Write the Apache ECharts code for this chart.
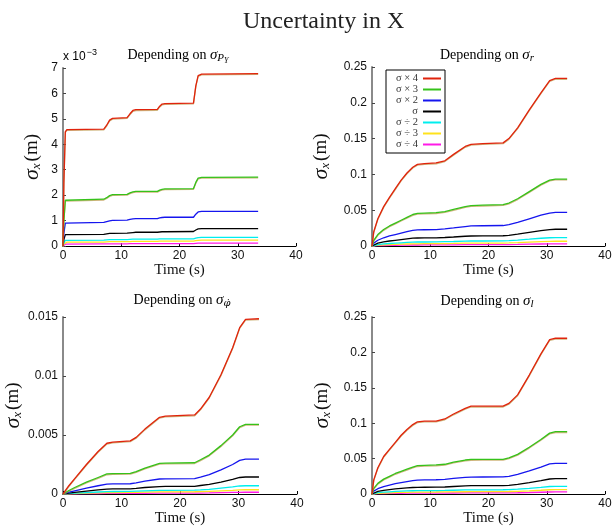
<!DOCTYPE html>
<html>
<head>
<meta charset="utf-8">
<title>Uncertainty in X</title>
<script src="https://cdn.jsdelivr.net/npm/echarts@6/dist/echarts.min.js"></script>
<style>
  html, body { margin: 0; padding: 0; background: #fff; }
  #chart { width: 614px; height: 529px; }
</style>
</head>
<body>
<div id="chart"></div>
<script>
  // legend entries, same order in every panel
  const legendNames = ['σ × 4', 'σ × 3', 'σ × 2', 'σ', 'σ ÷ 2', 'σ ÷ 3', 'σ ÷ 4'];

  // --- panel 1: depending on sigma_PY (values in x10^-3 m) ---
  const timePY = [0, 0.15, 0.4, 0.7, 7.0, 7.5, 8.0, 8.5, 11.0, 11.5, 12.0, 12.5, 16.2, 16.6, 17.0, 17.5, 22.4, 22.8, 23.2, 23.8, 33.5];
  const py4 = [0, 2.5, 4.5, 4.58, 4.6, 4.75, 4.95, 5.02, 5.05, 5.2, 5.33, 5.36, 5.37, 5.5, 5.58, 5.6, 5.62, 6.3, 6.7, 6.76, 6.78];
  const py3 = [0, 1.0, 1.8, 1.83, 1.84, 1.9, 1.98, 2.02, 2.03, 2.09, 2.13, 2.15, 2.15, 2.2, 2.23, 2.25, 2.26, 2.5, 2.67, 2.7, 2.71];
  const py2 = [0, 0.5, 0.9, 0.92, 0.93, 0.96, 0.99, 1.01, 1.02, 1.05, 1.07, 1.08, 1.08, 1.11, 1.12, 1.13, 1.13, 1.25, 1.34, 1.36, 1.36];
  const py1 = [0, 0.25, 0.45, 0.46, 0.46, 0.48, 0.5, 0.5, 0.51, 0.52, 0.53, 0.54, 0.54, 0.55, 0.56, 0.56, 0.57, 0.63, 0.67, 0.68, 0.68];
  const pyD2 = [0, 0.12, 0.22, 0.23, 0.23, 0.24, 0.25, 0.25, 0.25, 0.26, 0.27, 0.27, 0.27, 0.28, 0.28, 0.28, 0.28, 0.31, 0.33, 0.34, 0.34];
  const pyD3 = [0, 0.08, 0.15, 0.15, 0.15, 0.16, 0.17, 0.17, 0.17, 0.17, 0.18, 0.18, 0.18, 0.19, 0.19, 0.19, 0.19, 0.21, 0.22, 0.23, 0.23];
  const pyD4 = [0, 0.04, 0.07, 0.07, 0.08, 0.08, 0.08, 0.08, 0.08, 0.09, 0.09, 0.09, 0.09, 0.09, 0.09, 0.09, 0.09, 0.1, 0.11, 0.11, 0.11];

  // --- panel 2: depending on sigma_r (m) ---
  const timeR = [0, 0.3, 1, 2, 3, 4, 5, 6, 7, 7.8, 9, 11, 12.5, 14, 16, 17, 19, 22.5, 23.5, 25, 27, 29, 30.5, 31.5, 33.5];
  const r4 = [0, 0.02, 0.038, 0.055, 0.068, 0.08, 0.092, 0.102, 0.11, 0.114, 0.115, 0.116, 0.119, 0.128, 0.139, 0.142, 0.143, 0.144, 0.15, 0.165, 0.19, 0.214, 0.231, 0.234, 0.234];
  const r3 = [0, 0.008, 0.016, 0.023, 0.028, 0.032, 0.036, 0.04, 0.044, 0.0455, 0.046, 0.0465, 0.048, 0.051, 0.055, 0.0565, 0.057, 0.0578, 0.06, 0.066, 0.076, 0.086, 0.092, 0.0935, 0.0935];
  const r2 = [0, 0.004, 0.008, 0.0115, 0.014, 0.016, 0.018, 0.02, 0.0218, 0.0224, 0.0227, 0.0228, 0.0238, 0.0252, 0.0272, 0.028, 0.0283, 0.0286, 0.0298, 0.033, 0.038, 0.043, 0.046, 0.047, 0.047];
  const r1 = [0, 0.002, 0.004, 0.0058, 0.007, 0.008, 0.009, 0.01, 0.0109, 0.0112, 0.0113, 0.0114, 0.0119, 0.0126, 0.0136, 0.014, 0.0141, 0.0143, 0.0149, 0.0165, 0.019, 0.0215, 0.023, 0.0234, 0.0234];
  const rD2 = [0, 0.001, 0.002, 0.0029, 0.0035, 0.004, 0.0045, 0.005, 0.0054, 0.0056, 0.0056, 0.0057, 0.006, 0.0063, 0.0068, 0.007, 0.007, 0.0072, 0.0075, 0.0083, 0.0095, 0.0108, 0.0115, 0.0117, 0.0117];
  const rD3 = [0, 0.0006, 0.0011, 0.0016, 0.002, 0.0023, 0.0026, 0.0028, 0.003, 0.0031, 0.0032, 0.0032, 0.0034, 0.0036, 0.0039, 0.004, 0.004, 0.0041, 0.0043, 0.0047, 0.0054, 0.0061, 0.0065, 0.0066, 0.0066];
  const rD4 = [0, 0.0003, 0.0005, 0.0007, 0.0009, 0.001, 0.0012, 0.0013, 0.0014, 0.0014, 0.0015, 0.0015, 0.0016, 0.0017, 0.0018, 0.0018, 0.0019, 0.0019, 0.002, 0.0022, 0.0025, 0.0028, 0.003, 0.003, 0.003];

  // --- panel 3: depending on sigma_phi-dot (m) ---
  const timePhi = [0, 1, 2, 4, 6, 7.5, 8.5, 11.5, 12.5, 14, 16.5, 17.5, 22.5, 23.5, 25, 27, 29, 30.2, 31.2, 33.5];
  const phi4 = [0, 0.0007, 0.0013, 0.0025, 0.0036, 0.0043, 0.0044, 0.0045, 0.0048, 0.0055, 0.0065, 0.0066, 0.0067, 0.0072, 0.0082, 0.0101, 0.0124, 0.0141, 0.0148, 0.01485];
  const phi3 = [0, 0.0003, 0.00055, 0.001, 0.0014, 0.0017, 0.00173, 0.00175, 0.0019, 0.0022, 0.0026, 0.00262, 0.00265, 0.0029, 0.0033, 0.0041, 0.005, 0.0057, 0.0059, 0.0059];
  const phi2 = [0, 0.00015, 0.00027, 0.0005, 0.0007, 0.00084, 0.00086, 0.00087, 0.00095, 0.0011, 0.00127, 0.00129, 0.0013, 0.00143, 0.00165, 0.00205, 0.0025, 0.00285, 0.00295, 0.00295];
  const phi1 = [0, 0.00007, 0.00013, 0.00025, 0.00035, 0.00042, 0.00043, 0.00044, 0.00048, 0.00055, 0.00062, 0.00064, 0.00065, 0.00072, 0.00082, 0.001, 0.00123, 0.0014, 0.00144, 0.00144];
  const phiD2 = [0, 0.00004, 0.00007, 0.00012, 0.00017, 0.0002, 0.00021, 0.00022, 0.00024, 0.00027, 0.0003, 0.00031, 0.00032, 0.00035, 0.0004, 0.0005, 0.0006, 0.00068, 0.0007, 0.0007];
  const phiD3 = [0, 0.00002, 0.00004, 0.00007, 0.0001, 0.00012, 0.00012, 0.00013, 0.00014, 0.00016, 0.00018, 0.00018, 0.00019, 0.0002, 0.00023, 0.00027, 0.00031, 0.00035, 0.00036, 0.00036];
  const phiD4 = [0, 0.00001, 0.00002, 0.00003, 0.00004, 0.00005, 0.00005, 0.00005, 0.00006, 0.00006, 0.00007, 0.00007, 0.00007, 0.00008, 0.00009, 0.00011, 0.00013, 0.00014, 0.00015, 0.00015];

  // --- panel 4: depending on sigma_l (m) ---
  const timeL = [0, 0.3, 1, 2, 3, 4, 5, 6, 7, 7.8, 9, 11, 12.5, 14, 16, 17, 19, 22.5, 23.5, 25, 27, 29, 30.5, 31.5, 33.5];
  const l4 = [0, 0.02, 0.037, 0.053, 0.063, 0.073, 0.083, 0.091, 0.098, 0.102, 0.103, 0.103, 0.106, 0.113, 0.121, 0.124, 0.124, 0.124, 0.128, 0.14, 0.168, 0.198, 0.218, 0.22, 0.22];
  const l3 = [0, 0.008, 0.015, 0.021, 0.025, 0.029, 0.032, 0.035, 0.038, 0.04, 0.0405, 0.041, 0.042, 0.045, 0.048, 0.0488, 0.049, 0.049, 0.051, 0.056, 0.066, 0.077, 0.086, 0.088, 0.088];
  const l2 = [0, 0.004, 0.0075, 0.0105, 0.0125, 0.0145, 0.016, 0.0175, 0.019, 0.0197, 0.02, 0.0201, 0.0207, 0.022, 0.0234, 0.0239, 0.024, 0.0241, 0.025, 0.0277, 0.0325, 0.038, 0.0425, 0.0432, 0.0432];
  const l1 = [0, 0.002, 0.0037, 0.0052, 0.0062, 0.0072, 0.008, 0.0087, 0.0092, 0.0094, 0.0095, 0.0096, 0.0099, 0.0106, 0.0114, 0.0117, 0.0118, 0.0119, 0.0123, 0.0136, 0.016, 0.0188, 0.0212, 0.0216, 0.0216];
  const lD2 = [0, 0.001, 0.0018, 0.0026, 0.0031, 0.0036, 0.004, 0.0043, 0.0046, 0.0047, 0.0048, 0.0048, 0.005, 0.0053, 0.0057, 0.0059, 0.0059, 0.006, 0.0062, 0.0068, 0.008, 0.0094, 0.0106, 0.0108, 0.0108];
  const lD3 = [0, 0.0006, 0.001, 0.0014, 0.0017, 0.002, 0.0022, 0.0024, 0.0026, 0.0027, 0.0027, 0.0028, 0.0029, 0.003, 0.0032, 0.0033, 0.0033, 0.0034, 0.0035, 0.0038, 0.0045, 0.0053, 0.006, 0.0061, 0.0061];
  const lD4 = [0, 0.0003, 0.0005, 0.0007, 0.0008, 0.0009, 0.001, 0.0011, 0.0012, 0.0012, 0.0013, 0.0013, 0.0013, 0.0014, 0.0015, 0.0015, 0.0015, 0.0016, 0.0016, 0.0018, 0.0021, 0.0025, 0.0028, 0.0029, 0.0029];

  const lineColors = ['#e0230c', '#35c21a', '#1515ee', '#000000', '#00eeee', '#ffe21c', '#ff1ae6'];
  const SERIF = '"Liberation Serif", "DejaVu Serif", serif';
  const SANS = '"Liberation Sans", Arial, sans-serif';

  const panels = [
    { time: timePY, values: [py4, py3, py2, py1, pyD2, pyD3, pyD4], max: 7, interval: 1,
      grid: { left: 63, top: 68, width: 233, height: 178 }, nameGap: 20, timeGap: 7 },
    { time: timeR, values: [r4, r3, r2, r1, rD2, rD3, rD4], max: 0.25, interval: 0.05,
      grid: { left: 372, top: 67, width: 233, height: 179 }, nameGap: 40, timeGap: 7 },
    { time: timePhi, values: [phi4, phi3, phi2, phi1, phiD2, phiD3, phiD4], max: 0.015, interval: 0.005,
      grid: { left: 63, top: 317, width: 234, height: 177 }, nameGap: 36, timeGap: 16 },
    { time: timeL, values: [l4, l3, l2, l1, lD2, lD3, lD4], max: 0.25, interval: 0.05,
      grid: { left: 372, top: 317, width: 233, height: 177 }, nameGap: 39, timeGap: 16 }
  ];

  const grids = [], xAxes = [], yAxes = [], series = [];
  panels.forEach(function (p, i) {
    grids.push(Object.assign({ outerBoundsMode: 'none', containLabel: false }, p.grid));
    xAxes.push({
      type: 'value', gridIndex: i, min: 0, max: 40, interval: 10,
      name: 'Time (s)', nameLocation: 'middle', nameGap: p.timeGap,
      nameTextStyle: { fontFamily: SERIF, fontSize: 15, color: '#111' },
      axisLine: { show: true, onZero: false, lineStyle: { color: '#000', width: 1 } },
      axisTick: { show: true, inside: true, length: 3, lineStyle: { color: '#000' } },
      axisLabel: { fontFamily: SANS, fontSize: 12, color: '#111', margin: 4 },
      splitLine: { show: false }
    });
    yAxes.push({
      type: 'value', gridIndex: i, min: 0, max: p.max, interval: p.interval,
      name: '{s|σ}{x|x}{m|(m)}', nameLocation: 'middle', nameGap: p.nameGap, nameRotate: 90,
      nameTextStyle: {
        color: '#111',
        rich: {
          s: { fontFamily: SERIF, fontStyle: 'italic', fontSize: 22, color: '#111' },
          x: { fontFamily: SERIF, fontStyle: 'italic', fontSize: 13, color: '#111', padding: [9, 2, 0, 0] },
          m: { fontFamily: SERIF, fontSize: 19, color: '#111' }
        }
      },
      axisLine: { show: true, onZero: false, lineStyle: { color: '#8a8a8a', width: 2 } },
      axisTick: { show: true, inside: true, length: 3, lineStyle: { color: '#444' } },
      axisLabel: { fontFamily: SANS, fontSize: 12, color: '#111', margin: 5 },
      splitLine: { show: false }
    });
    p.values.forEach(function (vals, k) {
      const shaded = k < 2;
      series.push({
        name: legendNames[k], type: 'line', xAxisIndex: i, yAxisIndex: i,
        data: p.time.map(function (t, j) { return [t, vals[j]]; }),
        showSymbol: false, symbol: 'none', smooth: false,
        itemStyle: { color: lineColors[k] },
        lineStyle: shaded
          ? { color: lineColors[k], width: 1.3, shadowColor: 'rgba(185,150,70,0.7)', shadowOffsetY: 0.8, shadowBlur: 0 }
          : { color: lineColors[k], width: 1.3 },
        z: 10 - k
      });
    });
  });

  const subRich = {
    t: { fontFamily: SERIF, fontSize: 14, color: '#222' },
    s: { fontFamily: SERIF, fontStyle: 'italic', fontSize: 15, color: '#222' },
    a: { fontFamily: SERIF, fontStyle: 'italic', fontSize: 11, color: '#222', padding: [7, 0, 0, 0] },
    d: { fontFamily: '"DejaVu Serif", serif', fontStyle: 'italic', fontSize: 10, color: '#222', padding: [7, 0, 0, 0] },
    b: { fontFamily: SERIF, fontStyle: 'italic', fontSize: 8, color: '#222', padding: [12, 0, 0, 0] }
  };
  function subTitle(x, y, text) {
    return { type: 'text', x: x, y: y, style: { text: text, rich: subRich, align: 'center', verticalAlign: 'middle' } };
  }

  const chart = echarts.init(document.getElementById('chart'));
  chart.setOption({
    animation: false,
    backgroundColor: '#fff',
    title: {
      text: 'Uncertainty in X', left: 238, top: 5,
      textStyle: { fontFamily: SERIF, fontSize: 24, fontWeight: 'normal', color: '#222' }
    },
    legend: {
      data: legendNames, orient: 'vertical', left: 386, top: 70, align: 'right',
      icon: 'rect', itemWidth: 18, itemHeight: 2, itemGap: 0,
      padding: [3, 4, 3, 4], borderColor: '#000', borderWidth: 1, backgroundColor: '#fff',
      textStyle: { fontFamily: SERIF, fontSize: 10.5, color: '#333', width: 28, align: 'right', lineHeight: 8.6 },
      selectedMode: false
    },
    grid: grids,
    xAxis: xAxes,
    yAxis: yAxes,
    series: series,
    graphic: [
      subTitle(178, 55, '{t|Depending on }{s|σ}{a|P}{b|Y}'),
      subTitle(487, 55, '{t|Depending on }{s|σ}{a|r}'),
      subTitle(182, 300, '{t|Depending on }{s|σ}{d|φ̇}'),
      subTitle(487, 301, '{t|Depending on }{s|σ}{a|l}'),
      { type: 'text', x: 63, y: 57, style: {
          text: '{a|x 10}{b|−3}', verticalAlign: 'middle',
          rich: { a: { fontFamily: SANS, fontSize: 12, color: '#111' },
                  b: { fontFamily: SANS, fontSize: 9, color: '#111', padding: [0, 0, 9, 1] } } } }
    ]
  });
</script>
</body>
</html>
